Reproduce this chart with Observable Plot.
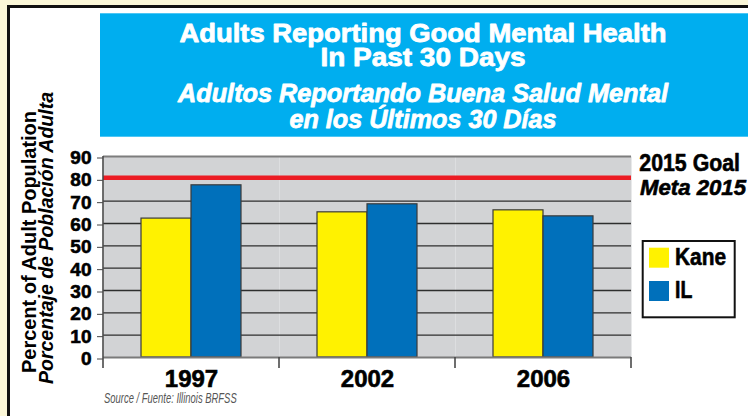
<!DOCTYPE html>
<html><head><meta charset="utf-8">
<script src="https://cdn.jsdelivr.net/npm/d3@7"></script>
<script src="https://cdn.jsdelivr.net/npm/@observablehq/plot@0.6"></script>
<style>
html,body{margin:0;padding:0;}
body{width:748px;height:416px;overflow:hidden;background:#fbf7d8;position:relative;font-family:"Liberation Sans",Arial,sans-serif;}
#panel{position:absolute;left:7px;top:5px;width:800px;height:500px;background:#fff;border:3px solid #111;box-sizing:border-box}
#deco{position:absolute;left:0;top:0}
#chart{position:absolute;left:0;top:0}
#chart svg text{font-weight:bold;fill:#000;stroke:#000;stroke-width:0.6px;paint-order:stroke}
</style></head><body>
<div id="panel"></div>
<svg id="deco" width="748" height="416"></svg>
<div id="chart"></div>
<script>
// ---- data ----
const years = ["1997", "2002", "2006"];
const seriesNames = ["Kane", "IL"];
const kaneValues = [62.2, 65.0, 65.9];
const ilValues = [77.1, 68.6, 63.2];
const goalValue = 80.5;
const yTicks = [0, 10, 20, 30, 40, 50, 60, 70, 80, 90];
const seriesColors = ["#fff200", "#0070bb"];
const titleLines = ["Adults Reporting Good Mental Health", "In Past 30 Days"];
const subtitleLines = ["Adultos Reportando Buena Salud Mental", "en los Últimos 30 Días"];
const yLabelLines = ["Percent of Adult Population", "Porcentaje de Población Adulta"];
const goalLabels = ["2015 Goal", "Meta 2015"];
const sourceText = "Source / Fuente: Illinois BRFSS";

const data = years.flatMap((yr, i) => [
  {year: yr, series: seriesNames[0], value: kaneValues[i]},
  {year: yr, series: seriesNames[1], value: ilValues[i]}
]);

// boundary ticks + left axis line, drawn from the fx / y scales
const boundaryMark = Plot.frame({
  facet: "super",
  render(index, scales) {
    const fx = scales.fx, y = scales.y;
    const bw = typeof fx.bandwidth === "function" ? fx.bandwidth() : fx.bandwidth;
    const dom = fx.domain();
    const edges = dom.map(d => fx(d)).concat([fx(dom[dom.length - 1]) + bw]);
    const g = d3.create("svg:g").attr("stroke", "#4a4a4a").attr("stroke-width", 1.6);
    const y0 = y(0), yTop = y(d3.max(yTicks));
    edges.forEach((xp, i) => {
      g.append("line").attr("x1", xp).attr("x2", xp)
        .attr("y1", i === 0 ? yTop : y0).attr("y2", y0 + 11);
    });
    return g.node();
  }
});

const chart = Plot.plot({
  width: 748,
  height: 416,
  marginLeft: 103,
  marginRight: 117,
  marginTop: 156,
  marginBottom: 59,
  style: {background: "transparent", fontFamily: "'Liberation Sans', Arial, sans-serif", color: "#000"},
  fx: {domain: years, padding: 0, label: null},
  x: {domain: seriesNames, paddingInner: 0, paddingOuter: 0.755, axis: null},
  y: {domain: [0, 90], label: null},
  color: {domain: seriesNames, range: seriesColors},
  marks: [
    Plot.frame({fill: "#d2d3d5", stroke: "none"}),
    Plot.ruleY(yTicks.filter(t => t > 0 && t < 90), {stroke: "#2e2e2e", strokeWidth: 1.3}),
    Plot.ruleY([90], {stroke: "#7d7d7d", strokeWidth: 2}),
    Plot.ruleY([goalValue], {stroke: "#ec1c24", strokeWidth: 4.5}),
    Plot.barY(data, {fx: "year", x: "series", y: "value", fill: "series", stroke: "#3a3a3a", strokeWidth: 1.2}),
    Plot.ruleY([0], {stroke: "#7a7a7a", strokeWidth: 2}),
    Plot.axisY({ticks: yTicks, tickSize: 6, tickPadding: 6, fontSize: 19, fontWeight: "bold", dy: 1.5, stroke: "#444", label: null}),
    Plot.axisFx({anchor: "bottom", tickSize: 0, tickPadding: 12, fontSize: 24, fontWeight: "bold", label: null}),
    boundaryMark
  ]
});
document.getElementById("chart").appendChild(chart);

// ---- title, labels, legend ----
const deco = d3.select("#deco");
deco.append("rect").attr("x", 100).attr("y", 13.3).attr("width", 660).attr("height", 123.4).attr("fill", "#00aeef");

function txt(s, o) {
  const t = deco.append("text").text(s)
    .attr("x", o.x).attr("y", o.y)
    .attr("font-family", o.family || "'Liberation Sans', Arial, sans-serif")
    .attr("font-size", o.size).attr("font-weight", o.weight || "bold")
    .attr("font-style", o.italic ? "italic" : "normal")
    .attr("fill", o.fill || "#000")
    .attr("text-anchor", o.anchor || "start");
  if (o.heavy) t.attr("stroke", o.fill || "#000").attr("stroke-width", o.heavy).attr("paint-order", "stroke").attr("stroke-linejoin", "round");
  if (o.len) t.attr("textLength", o.len).attr("lengthAdjust", o.adjust || "spacingAndGlyphs");
  if (o.rotate) t.attr("transform", `rotate(${o.rotate},${o.x},${o.y})`);
  return t;
}

txt(titleLines[0], {x: 423, y: 41.7, size: 26, fill: "#fff", anchor: "middle", len: 487, heavy: 0.8});
txt(titleLines[1], {x: 423, y: 66.2, size: 26, fill: "#fff", anchor: "middle", len: 205, heavy: 0.8});
txt(subtitleLines[0], {x: 423, y: 101.7, size: 26, fill: "#fff", anchor: "middle", italic: true, len: 490, heavy: 0.8});
txt(subtitleLines[1], {x: 423, y: 128.3, size: 26, fill: "#fff", anchor: "middle", italic: true, len: 267, heavy: 0.8});

txt(yLabelLines[0], {x: 35.5, y: 242, size: 20, anchor: "middle", rotate: -90, len: 262});
txt(yLabelLines[1], {x: 52.5, y: 238, size: 20, anchor: "middle", italic: true, rotate: -90, len: 292});

txt(goalLabels[0], {x: 639.3, y: 170.7, size: 24, len: 100.7, heavy: 0.6});
txt(goalLabels[1], {x: 640, y: 195, size: 22, italic: true, len: 106, heavy: 0.6});

deco.append("rect").attr("x", 642.7).attr("y", 241).attr("width", 92).attr("height", 76.3)
  .attr("fill", "#fff").attr("stroke", "#111").attr("stroke-width", 2);
seriesNames.forEach((s, i) => {
  deco.append("rect").attr("x", 649).attr("y", 247.7 + i * 33.3).attr("width", 20).attr("height", 20).attr("fill", seriesColors[i]);
  txt(s, {x: 675, y: 265 + i * 33.3, size: 24, len: i === 0 ? 51 : 17.3, heavy: 0.6});
});

txt(sourceText, {x: 104, y: 402.7, size: 15, weight: "normal", italic: true, fill: "#555", len: 132.7});
</script>
</body></html>
